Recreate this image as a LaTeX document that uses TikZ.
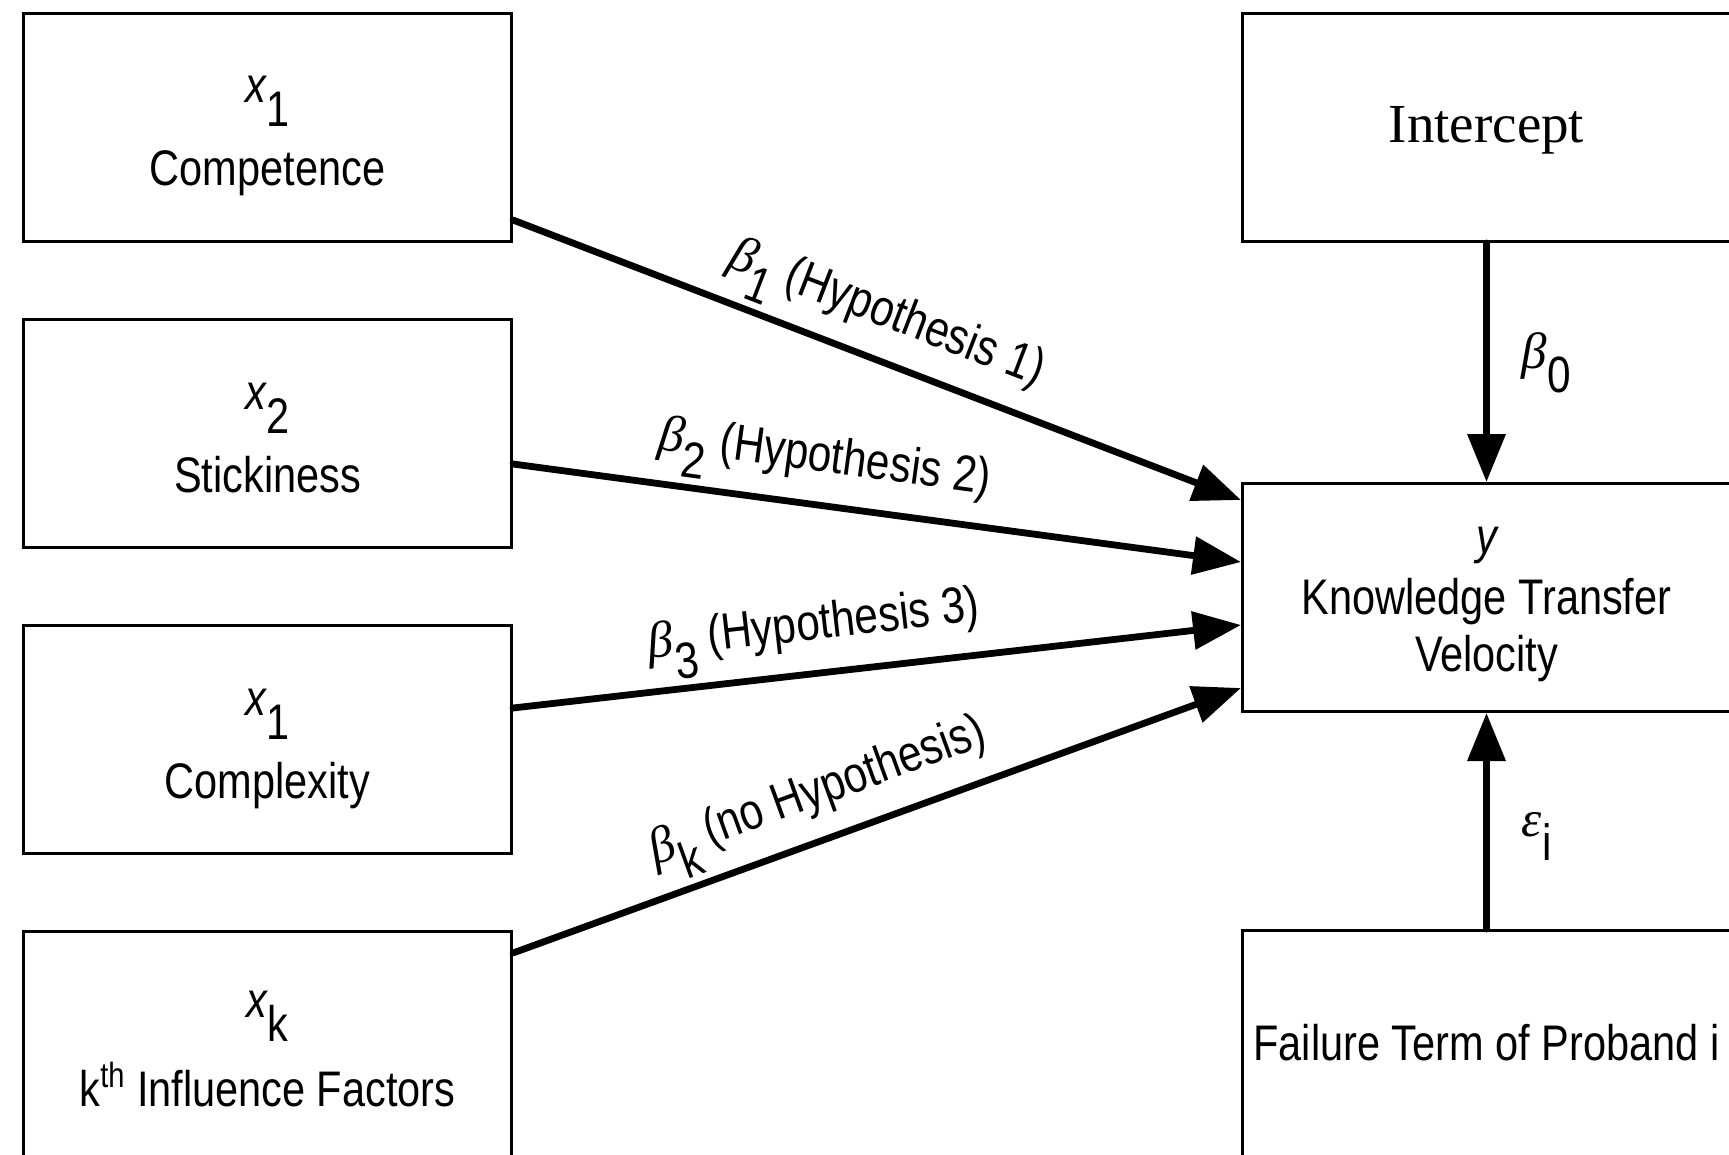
\documentclass[tikz,border=0pt]{standalone}
\usepackage{fontspec}
\setmainfont[FakeStretch=0.83]{Liberation Sans}
\newfontfamily\interfont{Liberation Serif}
\newfontfamily\grkfont{Liberation Serif}
\usetikzlibrary{arrows.meta,calc}
\newcommand\lowsub[1]{\raisebox{-12pt}{#1}}
\newcommand\grk[1]{{\grkfont\itshape #1}}
\begin{document}
\begin{tikzpicture}[x=0.5pt,y=-0.5pt,
  box/.style={draw, line width=1.5pt, minimum width=244pt, minimum height=114pt, inner sep=0pt, anchor=north west},
  txt/.style={font=\fontsize{25}{29}\selectfont, inner sep=0pt, anchor=base},
  arr/.style={line width=3.4pt, line cap=round, -{Triangle[length=24pt,width=18.5pt]}},
  lab/.style={font=\fontsize{25.5}{29}\selectfont, sloped, above=2pt, inner sep=1pt},
  vlab/.style={font=\fontsize{25.5}{29}\selectfont, anchor=west, inner sep=0pt, xshift=16pt}
]
\fill[white] (0,0) rectangle (1729,1155);
\useasboundingbox (0,0) rectangle (1729,1155);
\clip (0,0) rectangle (1729,1155);

% left boxes
\node[box] (b1) at (22,12) {};
\node[box] (b2) at (22,318) {};
\node[box] (b3) at (22,624) {};
\node[box] (b4) at (22,930) {};
% right boxes
\node[box] (bi) at (1241,12) {};
\node[box] (by) at (1241,482) {};
\node[box] (bf) at (1241,929) {};

% texts
\node[txt] (t1a) at ($(b1.north)+(0,91)$) {{\itshape x}\lowsub{1}};
\node[txt] (t1b) at ($(b1.north)+(0,174)$) {Competence};
\node[txt] (t2a) at ($(b2.north)+(0,91)$) {{\itshape x}\lowsub{2}};
\node[txt] (t2b) at ($(b2.north)+(0,174)$) {Stickiness};
\node[txt] (t3a) at ($(b3.north)+(0,91)$) {{\itshape x}\lowsub{1}};
\node[txt] (t3b) at ($(b3.north)+(0,174)$) {Complexity};
\node[txt] (t4a) at ($(b4.north)+(0,87)$) {{\itshape x}\lowsub{k}};
\node[txt] (t4b) at ($(b4.north)+(0,176)$) {k\textsuperscript{th} Influence Factors};

\node[txt, font=\interfont\fontsize{27.5}{30}\selectfont] (ti) at ($(bi.north)+(0,131)$) {Intercept};
\node[txt] (ty1) at ($(by.north)+(0,71)$) {\itshape y};
\node[txt] (ty2) at ($(by.north)+(0,132)$) {Knowledge Transfer};
\node[txt] (ty3) at ($(by.north)+(0,189)$) {Velocity};
\node[txt] (tf) at ($(bf.north)+(0,131)$) {Failure Term of Proband i};

% arrows
\draw[arr] ($(b1.north east)+(0,208)$) -- node[lab,pos=0.49] (l1) {\grk{β}\lowsub{1} (Hypothesis 1)} ($(by.north west)+(0,18)$);
\draw[arr] ($(b2.north east)+(0,146)$) -- node[lab,pos=0.42] (l2) {\grk{β}\lowsub{2} (Hypothesis 2)} ($(by.north west)+(0,80)$);
\draw[arr] ($(b3.north east)+(0,84)$) -- node[lab,pos=0.42] (l3) {\grk{β}\lowsub{3} (Hypothesis 3)} ($(by.north west)+(0,143)$);
\draw[arr] ($(b4.north east)+(0,23)$) -- node[lab,pos=0.44] (l4) {\grk{β}\lowsub{k} (no Hypothesis)} ($(by.north west)+(0,206)$);

\draw[arr] (bi.south) -- node[vlab,pos=0.5] (l0) {\grk{β}\lowsub{0}} (by.north);
\draw[arr] (bf.north) -- node[vlab,pos=0.43] (le) {\grk{ε}\lowsub{i}} (by.south);
\end{tikzpicture}
\end{document}
